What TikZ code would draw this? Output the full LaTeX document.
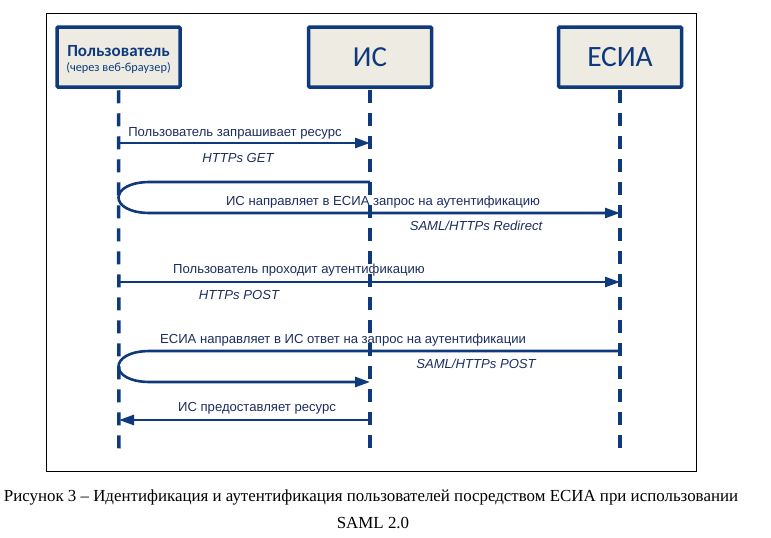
\documentclass[tikz,border=0pt]{standalone}
\usepackage{fontspec}
\setmainfont{Liberation Serif}
\newfontfamily\calfont{Carlito}
\newfontfamily\arfont{Liberation Sans}
\usetikzlibrary{arrows.meta}
\definecolor{esiablue}{RGB}{14,58,125}
\definecolor{boxfill}{RGB}{238,236,226}
\definecolor{txtblue}{RGB}{28,45,95}
\newcommand{\lbl}{\arfont\fontsize{13.1}{15}\selectfont}
\newcommand{\sublbl}{\arfont\itshape\fontsize{13.1}{15}\selectfont}

\begin{document}
\begin{tikzpicture}[x=1pt,y=-1pt,
   actor/.style={draw=esiablue,fill=boxfill,line width=3.5pt,rounded corners=1pt,
                 minimum width=123pt,minimum height=60pt,inner sep=0pt,text=esiablue},
   life/.style={draw=esiablue,line width=3.5pt,dash pattern=on 13pt off 10pt},
   msg/.style={draw=esiablue,line width=2.6pt,-{Triangle[length=15pt,width=10pt]}},
   msgtxt/.style={text=txtblue,font=\lbl,inner sep=0pt},
   subtxt/.style={text=txtblue,font=\sublbl,inner sep=0pt}]
   \useasboundingbox (0,0) rectangle (771,538);
   \draw[black,line width=1pt] (46,13) rectangle (696,471);
   % participants
   \node[actor] (usr) at (118.5,57)
      {\raisebox{-6pt}[16pt][16pt]{\begin{tabular}{@{}c@{}}
         {\calfont\bfseries\fontsize{17}{19}\selectfont Пользователь}\\[2pt]
         {\calfont\fontsize{12.3}{14}\selectfont(через веб-браузер)}
       \end{tabular}}};
   \node[actor,font=\calfont\fontsize{29}{32}\selectfont] (is) at (370,57) {ИС};
   \node[actor,font=\calfont\fontsize{29.5}{32}\selectfont] (esia) at (620,57) {ЕСИА};
   % lifelines
   \coordinate (usrend) at (119,449);
   \coordinate (isend) at (370,449);
   \coordinate (esiaend) at (620,449);
   \draw[life] (usr.south) ++(0,1.5) -- (usrend);
   \draw[life] (is.south) ++(0,1.5) -- (isend);
   \draw[life] (esia.south) ++(0,1.5) -- (esiaend);
   % points on the lifelines
   \coordinate (u1) at (119,143);  \coordinate (i1) at (370,143);
   \coordinate (i2) at (370,182);  \coordinate (e2) at (620,213);
   \coordinate (l2a) at (150,182); \coordinate (l2b) at (150,213);
   \coordinate (u3) at (119,282);  \coordinate (e3) at (620,282);
   \coordinate (e4) at (620,351);  \coordinate (i4) at (370,382);
   \coordinate (l4a) at (150,351); \coordinate (l4b) at (150,382);
   \coordinate (u5) at (119,420);  \coordinate (i5) at (370,420);
   % messages
   \draw[msg] (u1) -- (i1);
   \draw[msg] (i2) -- (l2a) .. controls (108,182) and (108,213) .. (l2b) -- (e2);
   \draw[msg] (u3) -- (e3);
   \draw[msg] (e4) -- (l4a) .. controls (108,351) and (108,382) .. (l4b) -- (i4);
   \draw[msg] (i5) -- (u5);
   % labels
   \node[msgtxt] (t1) at (235,133) {Пользователь запрашивает ресурс};
   \node[subtxt] (s1) at (238,158) {HTTPs GET};
   \node[msgtxt] (t2) at (383,202) {ИС направляет в ЕСИА запрос на аутентификацию};
   \node[subtxt] (s2) at (476,226) {SAML/HTTPs Redirect};
   \node[msgtxt] (t3) at (299,270) {Пользователь проходит аутентификацию};
   \node[subtxt] (s3) at (239,295) {HTTPs POST};
   \node[msgtxt] (t4) at (343,340) {ЕСИА направляет в ИС ответ на запрос на аутентификации};
   \node[subtxt] (s4) at (476,364) {SAML/HTTPs POST};
   \node[msgtxt] (t5) at (257,408) {ИС предоставляет ресурс};
   % caption
   \node[font=\fontsize{16.9}{20}\selectfont] (cap1) at (371,497)
      {Рисунок 3 – Идентификация и аутентификация пользователей посредством ЕСИА при использовании};
   \node[font=\fontsize{16.9}{20}\selectfont] (cap2) at (373,523) {SAML 2.0};
\end{tikzpicture}
\end{document}
